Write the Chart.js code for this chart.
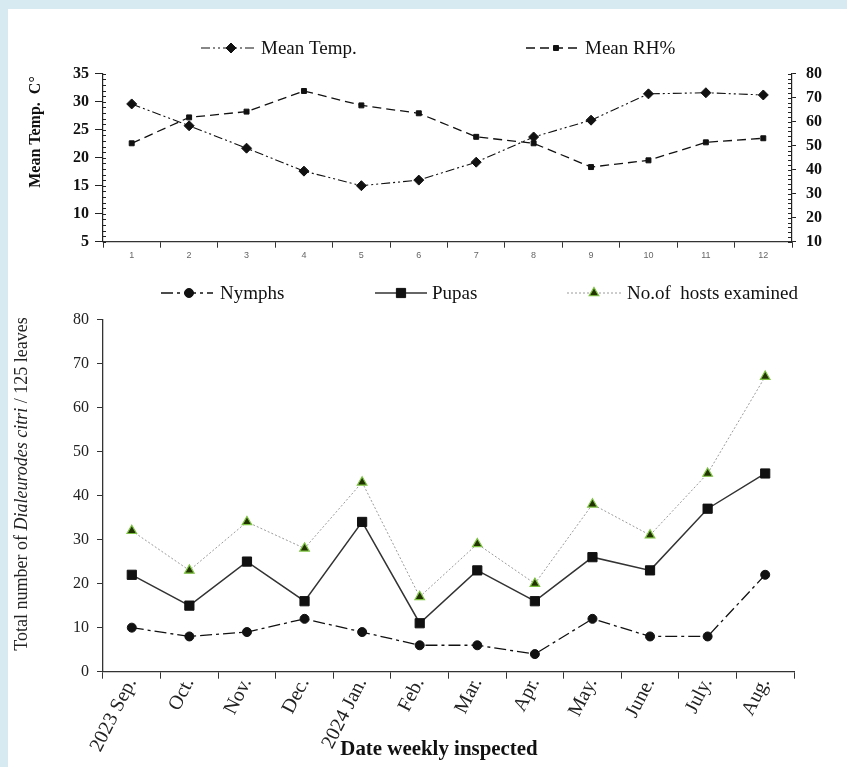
<!DOCTYPE html>
<html>
<head>
<meta charset="utf-8">
<script src="https://cdn.jsdelivr.net/npm/chart.js@4.4.1/dist/chart.umd.min.js"></script>
<style>
  html, body { margin: 0; padding: 0; width: 847px; height: 767px; overflow: hidden; background: #d7eaf1; }
  #panel { position: absolute; left: 8px; top: 9px; width: 839px; height: 758px; background: #fff; }
  #climateChart { position: absolute; left: 0; top: 0; }
  #pestChart { position: absolute; left: 0; top: 270px; }
</style>
</head>
<body>
<div id="panel"></div>
<canvas id="climateChart" width="862" height="268"></canvas>
<canvas id="pestChart" width="847" height="497"></canvas>
<script>
// --- data ---
const weekNums = ["1", "2", "3", "4", "5", "6", "7", "8", "9", "10", "11", "12"];
const meanTemp = [29.6, 25.7, 21.7, 17.6, 15.0, 16.0, 19.2, 23.7, 26.7, 31.4, 31.6, 31.2];
const meanRH = [51.0, 61.8, 64.2, 72.8, 66.8, 63.5, 53.7, 51.0, 41.1, 43.9, 51.4, 53.1];
const tempAxis = [5, 35, 5];   // min, max, step
const rhAxis = [10, 80, 10];

const months = ["2023 Sep.", "Oct.", "Nov.", "Dec.", "2024 Jan.", "Feb.", "Mar.", "Apr.", "May.", "June.", "July.", "Aug."];
const nymphs = [10, 8, 9, 12, 9, 6, 6, 4, 12, 8, 8, 22];
const pupas = [22, 15, 25, 16, 34, 11, 23, 16, 26, 23, 37, 45];
const hosts = [32, 23, 34, 28, 43, 17, 29, 20, 38, 31, 45, 67];
const countAxis = [0, 80, 10];

const SERIF = '"Liberation Serif", "Times New Roman", serif';
const INK = "#111";

// legend: line sample + marker + label, drawn in the top padding
function drawLegend(chart, items, y) {
  const ctx = chart.ctx;
  items.forEach((it) => {
    const ds = chart.data.datasets[it.index];
    ctx.save();
    ctx.strokeStyle = ds.borderColor;
    ctx.lineWidth = ds.borderWidth;
    ctx.setLineDash(ds.borderDash || []);
    ctx.beginPath();
    ctx.moveTo(it.x0, y);
    ctx.lineTo(it.x1, y);
    ctx.stroke();
    ctx.setLineDash([]);
    ctx.fillStyle = ds.pointBackgroundColor;
    ctx.strokeStyle = ds.pointBorderColor;
    ctx.lineWidth = ds.pointBorderWidth;
    Chart.helpers.drawPoint(ctx, { pointStyle: ds.pointStyle, radius: ds.pointRadius, rotation: 0, borderWidth: ds.pointBorderWidth }, it.mx, y);
    ctx.fillStyle = INK;
    ctx.font = "19px " + SERIF;
    ctx.textAlign = "left";
    ctx.textBaseline = "middle";
    ctx.fillText(ds.label, it.tx, y + 1);
    ctx.restore();
  });
}

// small ticks on the inner side of a y axis
function drawMinorTicks(chart, id, step, len) {
  const s = chart.scales[id];
  const ctx = chart.ctx;
  const left = s.position === "left";
  const x = left ? s.right : s.left;
  const dir = left ? 1 : -1;
  ctx.save();
  ctx.strokeStyle = "#222";
  ctx.lineWidth = 1;
  ctx.beginPath();
  for (let v = s.min; v <= s.max + 1e-9; v += step) {
    const y = Math.round(s.getPixelForValue(v)) + 0.5;
    ctx.moveTo(x, y);
    ctx.lineTo(x + dir * len, y);
  }
  ctx.stroke();
  ctx.restore();
}

// rotated text made of several runs (for the italic species name)
function drawRotated(ctx, runs, cx, cy, angle) {
  ctx.save();
  ctx.translate(cx, cy);
  ctx.rotate(angle);
  ctx.textBaseline = "middle";
  ctx.textAlign = "left";
  let total = 0;
  runs.forEach((r) => { ctx.font = r.font; total += ctx.measureText(r.text).width; });
  let x = -total / 2;
  runs.forEach((r) => {
    ctx.font = r.font;
    ctx.fillStyle = r.color || INK;
    ctx.fillText(r.text, x, 0);
    x += ctx.measureText(r.text).width;
  });
  ctx.restore();
}

// ---------------- top chart: temperature and RH ----------------
const climateExtras = {
  id: "climateExtras",
  afterDraw(chart) {
    drawMinorTicks(chart, "yT", 1, 3);
    drawMinorTicks(chart, "yRH", 2, 4);
    drawLegend(chart, [
      { index: 0, x0: 201, x1: 256, mx: 231, tx: 261 },
      { index: 1, x0: 526, x1: 581, mx: 556, tx: 585 },
    ], 48);
    drawRotated(chart.ctx, [{ text: "Mean Temp.  C°", font: "bold 16px " + SERIF }], 36, 132, -Math.PI / 2);
    // right title is cut by the page edge in the original
    drawRotated(chart.ctx, [{ text: "Mean RH%", font: "bold 16px " + SERIF, color: "#999" }], 851, 158, Math.PI / 2);
  },
};

new Chart(document.getElementById("climateChart"), {
  type: "line",
  data: {
    labels: weekNums,
    datasets: [
      {
        label: "Mean Temp.",
        data: meanTemp,
        yAxisID: "yT",
        borderColor: INK,
        borderWidth: 1.1,
        borderDash: [9, 3, 2, 3, 2, 3],
        pointStyle: "rectRot",
        pointRadius: 5,
        pointBorderWidth: 1,
        pointBackgroundColor: INK,
        pointBorderColor: INK,
        tension: 0,
      },
      {
        label: "Mean RH%",
        data: meanRH,
        yAxisID: "yRH",
        borderColor: INK,
        borderWidth: 1.3,
        borderDash: [9, 5],
        pointStyle: "rect",
        pointRadius: 3.5,
        pointBorderWidth: 1,
        pointBackgroundColor: INK,
        pointBorderColor: INK,
        tension: 0,
      },
    ],
  },
  options: {
    responsive: false,
    animation: false,
    layout: { padding: { top: 73.7, right: 0, bottom: 0, left: 0 } },
    plugins: { legend: { display: false }, tooltip: { enabled: false } },
    scales: {
      x: {
        offset: true,
        grid: { offset: true, drawOnChartArea: false, tickLength: 6, color: "#333" },
        border: { color: "#333", width: 1.2 },
        ticks: { font: { family: "Liberation Sans", size: 9 }, color: "#666", padding: 2, maxRotation: 0 },
        afterFit: (s) => { s.height = 268 - 241.7; },
      },
      yT: {
        position: "left",
        min: tempAxis[0],
        max: tempAxis[1],
        ticks: { stepSize: tempAxis[2], font: { family: SERIF, size: 16, weight: "bold" }, color: INK, padding: 6 },
        grid: { drawOnChartArea: false, tickLength: 8, color: "#222" },
        border: { color: "#222", width: 1.2 },
        afterFit: (s) => { s.width = 103; },
      },
      yRH: {
        position: "right",
        min: rhAxis[0],
        max: rhAxis[1],
        ticks: { stepSize: rhAxis[2], font: { family: SERIF, size: 16, weight: "bold" }, color: INK, padding: 10 },
        grid: { drawOnChartArea: false, tickLength: 4, color: "#222" },
        border: { color: "#222", width: 1.2 },
        afterFit: (s) => { s.width = 862 - 792; },
      },
    },
  },
  plugins: [climateExtras],
});

// ---------------- bottom chart: D. citri counts ----------------
const pestExtras = {
  id: "pestExtras",
  afterDraw(chart) {
    drawLegend(chart, [
      { index: 0, x0: 161, x1: 213, mx: 189, tx: 220 },
      { index: 1, x0: 375, x1: 427, mx: 401, tx: 432 },
      { index: 2, x0: 567, x1: 621, mx: 594, tx: 627 },
    ], 23);
    drawRotated(chart.ctx, [
      { text: "Total number of ", font: "18px " + SERIF, color: "#222" },
      { text: "Dialeurodes citri", font: "italic 18px " + SERIF, color: "#222" },
      { text: " / 125 leaves", font: "18px " + SERIF, color: "#222" },
    ], 22, 214, -Math.PI / 2);
    // x-axis title, slightly condensed like the original
    const ctx = chart.ctx;
    ctx.save();
    ctx.translate(439, 479);
    ctx.scale(0.95, 1);
    ctx.font = "bold 22px " + SERIF;
    ctx.fillStyle = INK;
    ctx.textAlign = "center";
    ctx.textBaseline = "middle";
    ctx.fillText("Date weekly inspected", 0, 0);
    ctx.restore();
  },
};

new Chart(document.getElementById("pestChart"), {
  type: "line",
  data: {
    labels: months,
    datasets: [
      {
        label: "Nymphs",
        data: nymphs,
        borderColor: INK,
        borderWidth: 1.3,
        borderDash: [12, 4, 3, 4],
        pointStyle: "circle",
        pointRadius: 4.5,
        pointBorderWidth: 1,
        pointBackgroundColor: INK,
        pointBorderColor: INK,
        tension: 0,
      },
      {
        label: "Pupas",
        data: pupas,
        borderColor: "#333",
        borderWidth: 1.5,
        pointStyle: "rect",
        pointRadius: 6.5,
        pointBorderWidth: 1,
        pointBackgroundColor: INK,
        pointBorderColor: INK,
        tension: 0,
      },
      {
        label: "No.of  hosts examined",
        data: hosts,
        borderColor: "#9a9a9a",
        borderWidth: 1,
        borderDash: [2, 2],
        pointStyle: "triangle",
        pointRadius: 5.5,
        pointBorderWidth: 1.2,
        pointBackgroundColor: "#223300",
        pointBorderColor: "#7dc242",
        tension: 0,
      },
    ],
  },
  options: {
    responsive: false,
    animation: false,
    layout: { padding: { top: 49.3, right: 53, bottom: 0, left: 0 } },
    plugins: { legend: { display: false }, tooltip: { enabled: false } },
    scales: {
      x: {
        offset: true,
        grid: { offset: true, drawOnChartArea: false, tickLength: 7, color: "#333" },
        border: { color: "#333", width: 1.3 },
        ticks: { font: { family: SERIF, size: 20 }, color: "#222", padding: -5, minRotation: 63, maxRotation: 63, autoSkip: false },
        afterFit: (s) => { s.height = 497 - 401.7; },
      },
      y: {
        min: countAxis[0],
        max: countAxis[1],
        ticks: { stepSize: countAxis[2], font: { family: SERIF, size: 16 }, color: "#222", padding: 8 },
        grid: { drawOnChartArea: false, tickLength: 6, color: "#333" },
        border: { color: "#333", width: 1.3 },
        afterFit: (s) => { s.width = 103; },
      },
    },
  },
  plugins: [pestExtras],
});
</script>
</body>
</html>
